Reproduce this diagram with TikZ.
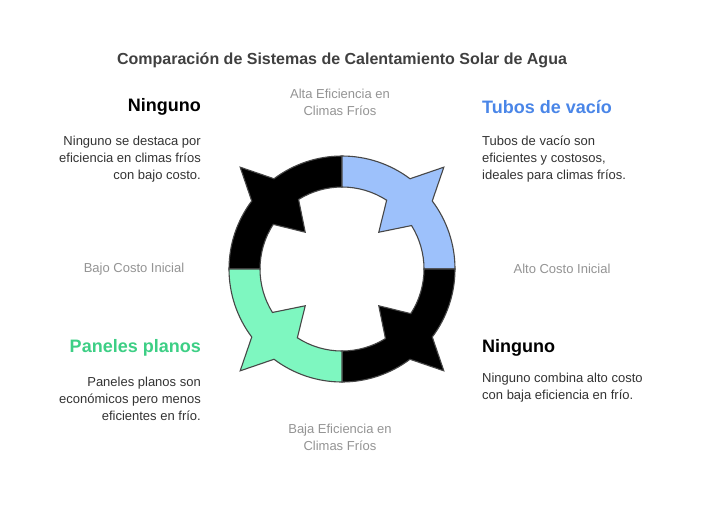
\documentclass[tikz,border=0pt]{standalone}
\usepackage{fontspec}
\setmainfont{Liberation Sans}
\definecolor{cblue}{HTML}{9DC1FB}
\definecolor{cgreen}{HTML}{7EF7C0}
\definecolor{tblue}{HTML}{4A86E8}
\definecolor{tgreen}{HTML}{3DCF85}
\begin{document}
\begin{tikzpicture}[x=1pt,y=-1pt,
  seg/.style={draw=black!72,line width=1.1pt,line join=miter},
  body/.style={font=\fontsize{13}{17}\selectfont,text=black!80,inner sep=0},
  axis/.style={font=\fontsize{13}{17}\selectfont,text=black!42,align=center,inner sep=0},
  head/.style={font=\fontsize{18}{22}\selectfont\bfseries,inner sep=0}]
\useasboundingbox[fill=white] (0,0) rectangle (708,504);
\begin{scope}[shift={(342,269)},x=1pt,y=1pt]
\foreach \a/\b/\c in {180/90/black,90/0/cblue,0/-90/black,-90/-180/cgreen}{
  \pgfmathsetmacro\m{(\a+\b)/2}
  \draw[seg,fill=\c] (\a:113) arc[start angle=\a,end angle=\m+8,radius=113]
    -- (\m:144) -- (\m-8:113) arc[start angle=\m-8,end angle=\b,radius=113]
    -- (\b:82) arc[start angle=\b,end angle=\m-13,radius=82]
    -- (\m:52) -- (\m+12:82) arc[start angle=\m+12,end angle=\a,radius=82] -- cycle;
}
\end{scope}
\node[font=\fontsize{16}{20}\selectfont\bfseries,text=black!75,inner sep=0] (title) at (342,60) {Comparación de Sistemas de Calentamiento Solar de Agua};
\node[head,anchor=east] (h1) at (201,107) {Ninguno};
\node[body,anchor=north east,align=right] (b1) at (201,136) {Ninguno se destaca por\\eficiencia en climas fríos\\con bajo costo.};
\node[head,anchor=west,text=tblue] (h2) at (482,107) {Tubos de vacío};
\node[body,anchor=north west,align=left] (b2) at (482,136) {Tubos de vacío son\\eficientes y costosos,\\ideales para climas fríos.};
\node[head,anchor=east,text=tgreen] (h3) at (201,348) {Paneles planos};
\node[body,anchor=north east,align=right] (b3) at (201,377) {Paneles planos son\\económicos pero menos\\eficientes en frío.};
\node[head,anchor=west] (h4) at (482,348) {Ninguno};
\node[body,anchor=north west,align=left] (b4) at (482,373) {Ninguno combina alto costo\\con baja eficiencia en frío.};
\node[axis] (t) at (340,102) {Alta Eficiencia en\\Climas Fríos};
\node[axis] (l) at (134,269) {Bajo Costo Inicial};
\node[axis] (r) at (562,269) {Alto Costo Inicial};
\node[axis] (bt) at (340,437) {Baja Eficiencia en\\Climas Fríos};
\end{tikzpicture}
\end{document}
